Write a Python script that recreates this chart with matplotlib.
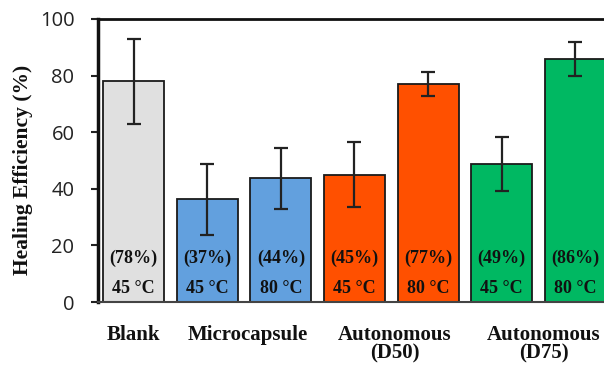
import matplotlib
matplotlib.use("Agg")
import matplotlib.pyplot as plt
import numpy as np

values = [78, 36.3, 43.7, 45, 77, 48.8, 86]
errors = [15, 12.5, 10.8, 11.5, 4.2, 9.5, 6]
pct_labels = ["(78%)", "(37%)", "(44%)", "(45%)", "(77%)", "(49%)", "(86%)"]
temp_labels = ["45 °C", "45 °C", "80 °C", "45 °C", "80 °C", "45 °C", "80 °C"]
colors = ["#E0E0E0", "#62A0DE", "#62A0DE", "#FF5000", "#FF5000", "#00B862", "#00B862"]
group_labels = ["Blank", "Microcapsule", "Autonomous\n(D50)", "Autonomous\n(D75)"]
group_pos = [0, 1.55, 3.55, 5.57]
yticks = [0, 20, 40, 60, 80, 100]

fig = plt.figure(figsize=(6.04, 3.65), dpi=100)
ax = fig.add_axes([98/604, 63/365, 513/604, 283/365])

x = np.arange(len(values))
ax.bar(x, values, width=0.83, color=colors, edgecolor="#1a1a1a", linewidth=1.3, zorder=2)
ax.errorbar(x, values, yerr=errors, fmt="none", ecolor="#222222", elinewidth=1.6,
            capsize=5, capthick=1.6, zorder=3)

serif = "Liberation Serif"
for xi, p, t in zip(x, pct_labels, temp_labels):
    ax.text(xi, 15.5, p, ha="center", va="center", fontfamily=serif, fontweight="bold",
            fontsize=13, color="#111111", zorder=4)
    ax.text(xi, 4.8, t, ha="center", va="center", fontfamily=serif, fontweight="bold",
            fontsize=13, color="#111111", zorder=4)

ax.set_xlim(-0.483, 6.483)
ax.set_ylim(0, 100)
ax.set_yticks(yticks)
ax.set_yticklabels([str(v) for v in yticks], fontfamily="Open Sans", fontsize=14.5, color="#222222")
ax.tick_params(axis="y", length=5, width=1.5, direction="out", pad=12, colors="#222222")
ax.set_xticks([])
for gp, gl in zip(group_pos, group_labels):
    ax.text(gp, -8.0, gl, ha="center", va="top", fontfamily=serif, fontweight="bold",
            fontsize=15, color="#111111", linespacing=0.95, transform=ax.transData,
            clip_on=False)

ax.set_ylabel("Healing Efficiency (%)", fontfamily=serif, fontweight="bold", fontsize=15.5,
              color="#111111", va="center")
ax.yaxis.set_label_coords(-0.146, 0.466)

ax.spines["left"].set_linewidth(2.5)
ax.spines["left"].set_color("#111111")
ax.spines["top"].set_linewidth(2)
ax.spines["top"].set_color("#111111")
ax.spines["bottom"].set_linewidth(1.5)
ax.spines["bottom"].set_color("#444444")
ax.spines["right"].set_visible(False)

fig.savefig("out.png", dpi=100)
